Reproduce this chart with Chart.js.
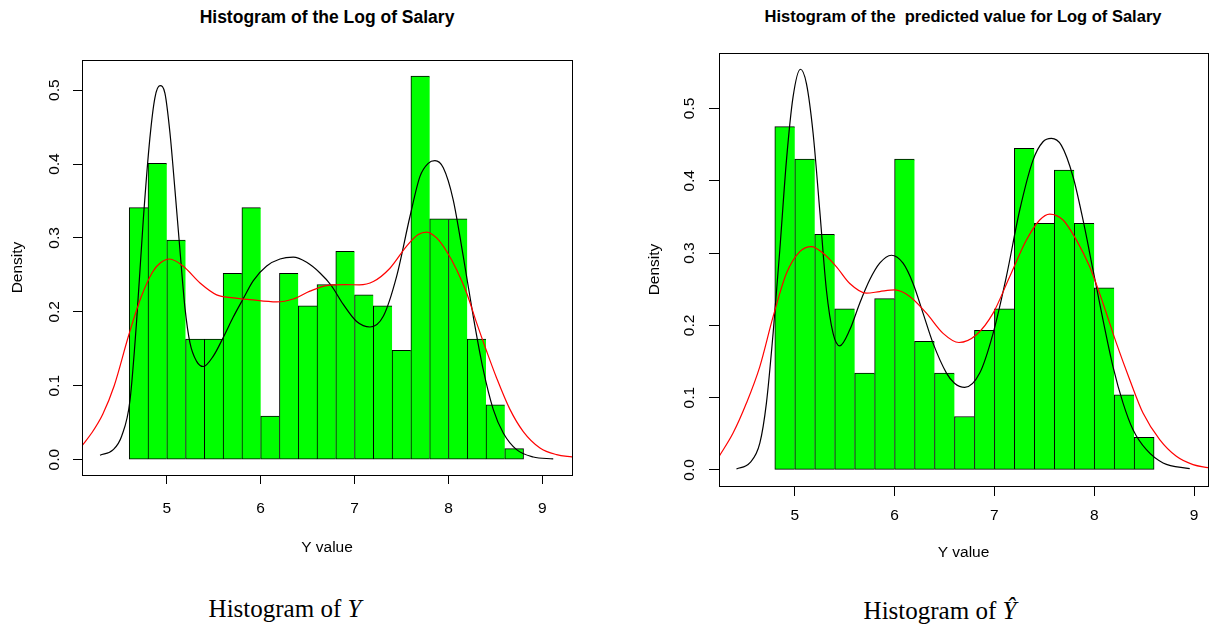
<!DOCTYPE html>
<html><head><meta charset="utf-8">
<script src="https://cdn.jsdelivr.net/npm/chart.js@4.4.1/dist/chart.umd.min.js"></script>
<style>
body{margin:0;background:#fff;width:1212px;height:626px;overflow:hidden;position:relative;font-family:'Liberation Sans',Arial,sans-serif}
canvas{position:absolute;top:0}
.title{position:absolute;font-weight:bold;text-align:center;line-height:1;white-space:pre;color:#000}
.cap{position:absolute;font-family:'Liberation Serif','Times New Roman',serif;font-size:25px;line-height:1;text-align:center;white-space:nowrap;color:#000}
</style></head><body>
<div class="title" style="left:127px;width:400px;top:9px;font-size:17.5px">Histogram of the Log of Salary</div>
<div class="title" style="left:713px;width:500px;top:7.5px;font-size:16.5px">Histogram of the  predicted value for Log of Salary</div>
<canvas id="c1" width="600" height="580" style="left:0"></canvas>
<canvas id="c2" width="606" height="580" style="left:606px"></canvas>
<div class="cap" style="left:185px;width:200px;top:596px">Histogram of <i>Y</i></div>
<div class="cap" style="left:840px;width:200px;top:598px">Histogram of <i>Ŷ</i></div>
<script>
// ---- data ----
const breaksY = [4.6,4.8,5.0,5.2,5.4,5.6,5.8,6.0,6.2,6.4,6.6,6.8,7.0,7.2,7.4,7.6,7.8,8.0,8.2,8.4,8.6,8.8];
const densityY = [0.341,0.401,0.297,0.163,0.163,0.252,0.341,0.059,0.252,0.208,0.237,0.282,0.223,0.208,0.148,0.519,0.326,0.326,0.163,0.074,0.015];
const breaksYhat = [4.8,5.0,5.2,5.4,5.6,5.8,6.0,6.2,6.4,6.6,6.8,7.0,7.2,7.4,7.6,7.8,8.0,8.2,8.4,8.6];
const densityYhat = [0.475,0.430,0.326,0.223,0.134,0.237,0.430,0.178,0.134,0.074,0.193,0.223,0.445,0.341,0.415,0.341,0.252,0.104,0.045];

const blackCurveY = [[4.289,0.006],[4.43,0.0135],[4.52,0.032],[4.608,0.08],[4.68,0.19],[4.75,0.325],[4.82,0.435],[4.874,0.49],[4.928,0.506],[4.98,0.496],[5.034,0.442],[5.087,0.365],[5.14,0.284],[5.194,0.205],[5.247,0.158],[5.318,0.133],[5.389,0.126],[5.495,0.140],[5.60,0.165],[5.708,0.193],[5.815,0.218],[5.92,0.242],[6.064,0.262],[6.206,0.2715],[6.347,0.274],[6.49,0.267],[6.632,0.2526],[6.75,0.236],[6.88,0.21],[7.022,0.187],[7.164,0.1795],[7.306,0.194],[7.448,0.248],[7.59,0.329],[7.696,0.383],[7.785,0.401],[7.856,0.4046],[7.945,0.395],[8.05,0.352],[8.158,0.275],[8.264,0.194],[8.37,0.122],[8.477,0.068],[8.584,0.036],[8.726,0.0135],[8.903,0.0036],[9.116,0.001]];
const redCurveY = [[4.098,0.019],[4.2,0.036],[4.318,0.0615],[4.44,0.10],[4.596,0.169],[4.727,0.22],[4.849,0.254],[4.93,0.266],[5.03,0.2715],[5.176,0.2616],[5.354,0.239],[5.531,0.223],[5.708,0.219],[5.886,0.2165],[6.17,0.2134],[6.347,0.2174],[6.525,0.228],[6.703,0.2355],[6.9,0.2368],[7.05,0.2365],[7.2,0.241],[7.377,0.259],[7.555,0.289],[7.678,0.3045],[7.768,0.308],[7.874,0.300],[7.98,0.282],[8.087,0.257],[8.194,0.2255],[8.30,0.185],[8.407,0.1466],[8.513,0.1105],[8.655,0.068],[8.797,0.038],[8.975,0.0158],[9.152,0.0068],[9.32,0.0036]];

const blackCurveYhat = [[4.416,0.0014],[4.549,0.0097],[4.65,0.037],[4.716,0.0925],[4.783,0.189],[4.85,0.304],[4.917,0.4286],[4.983,0.516],[5.057,0.5543],[5.117,0.5345],[5.184,0.4655],[5.25,0.3596],[5.317,0.249],[5.384,0.189],[5.451,0.1717],[5.551,0.1938],[5.651,0.2307],[5.751,0.263],[5.851,0.286],[5.968,0.297],[6.085,0.286],[6.185,0.258],[6.285,0.217],[6.385,0.1754],[6.52,0.134],[6.60,0.12],[6.703,0.1142],[6.853,0.134],[6.987,0.189],[7.12,0.2675],[7.254,0.3596],[7.387,0.4286],[7.487,0.454],[7.571,0.4586],[7.671,0.449],[7.788,0.4056],[7.888,0.3458],[7.988,0.2767],[8.088,0.2076],[8.188,0.143],[8.289,0.0925],[8.389,0.0557],[8.523,0.028],[8.69,0.0097],[8.957,0.0018]];
const redCurveYhat = [[4.239,0.018],[4.382,0.051],[4.516,0.0925],[4.65,0.143],[4.783,0.212],[4.917,0.272],[5.05,0.302],[5.167,0.309],[5.284,0.2997],[5.418,0.281],[5.551,0.258],[5.718,0.2445],[5.851,0.2468],[6.002,0.249],[6.152,0.24],[6.319,0.2169],[6.486,0.189],[6.645,0.1763],[6.82,0.187],[6.987,0.2169],[7.154,0.2675],[7.321,0.318],[7.454,0.3458],[7.554,0.354],[7.688,0.3458],[7.822,0.318],[7.955,0.281],[8.088,0.2307],[8.222,0.1754],[8.356,0.1248],[8.489,0.0787],[8.656,0.042],[8.823,0.0189],[8.99,0.0074],[9.14,0.0032]];

const xTickValues = [5,6,7,8,9];
const xTickLabels = ['5','6','7','8','9'];
const yTickValues = [0,0.1,0.2,0.3,0.4,0.5];
const yTickLabels = ['0.0','0.1','0.2','0.3','0.4','0.5'];

// ---- drawing ----
Chart.defaults.font.family = "'Liberation Sans', Arial, sans-serif";
Chart.defaults.color = '#000';

const boxPlugin = {
  id: 'rbox',
  afterDatasetsDraw(chart) {
    const {ctx, chartArea: a} = chart;
    ctx.save();
    ctx.strokeStyle = '#000';
    ctx.lineWidth = 1;
    ctx.strokeRect(Math.round(a.left) + 0.5, Math.round(a.top) + 0.5, Math.round(a.right - a.left), Math.round(a.bottom - a.top));
    ctx.restore();
  }
};

function makeChart(id, cfg) {
  const mids = cfg.breaks.slice(0, -1).map((b, i) => (b + cfg.breaks[i + 1]) / 2);
  const n = mids.length;
  const fs = 15.5;
  new Chart(document.getElementById(id), {
    type: 'bar',
    data: {
      datasets: [
        { type: 'line', data: cfg.red.map(p => ({x: p[0], y: p[1]})), borderColor: '#ff0000', borderWidth: 1.2,
          pointRadius: 0, cubicInterpolationMode: 'monotone', fill: false, order: 0 },
        { type: 'line', data: cfg.black.map(p => ({x: p[0], y: p[1]})), borderColor: '#000000', borderWidth: 1.2,
          pointRadius: 0, cubicInterpolationMode: 'monotone', fill: false, order: 1 },
        { type: 'bar', data: mids.map((m, i) => ({x: m, y: cfg.dens[i]})), backgroundColor: '#00ff00', borderColor: '#000000',
          borderWidth: (c) => ({left: 1, top: 1, bottom: 1, right: c.dataIndex === n - 1 ? 1 : 0}),
          borderSkipped: false, barPercentage: 1, categoryPercentage: 1, order: 2 }
      ]
    },
    options: {
      responsive: false, animation: false, devicePixelRatio: 1,
      layout: {padding: {left: 0, top: cfg.box.top, right: cfg.W - cfg.box.right, bottom: 0}},
      plugins: {legend: {display: false}, tooltip: {enabled: false}, title: {display: false}},
      scales: {
        x: {
          type: 'linear', min: cfg.xmin, max: cfg.xmax, offset: false,
          afterBuildTicks: s => { s.ticks = xTickValues.map(v => ({value: v})); },
          afterFit: s => { s.height = cfg.H - cfg.box.bottom; },
          grid: {display: true, drawOnChartArea: false, drawTicks: true, tickLength: cfg.tick, color: '#000', offset: false},
          border: {display: false},
          ticks: {autoSkip: false, maxRotation: 0, minRotation: 0, padding: cfg.xpad, color: '#000', font: {size: fs},
                  callback: (v, i) => xTickLabels[i]},
          title: {display: true, text: 'Y value', color: '#000', font: {size: fs}, padding: {top: 0, bottom: cfg.xtitlePad}}
        },
        y: {
          type: 'linear', min: cfg.ymin, max: cfg.ymax,
          afterBuildTicks: s => { s.ticks = yTickValues.map(v => ({value: v})); },
          afterFit: s => { s.width = cfg.box.left; },
          grid: {display: true, drawOnChartArea: false, drawTicks: true, tickLength: cfg.tick, color: '#000'},
          border: {display: false},
          ticks: {minRotation: 90, maxRotation: 90, crossAlign: 'center', padding: cfg.ypad, color: '#000', font: {size: fs},
                  callback: (v, i) => yTickLabels[i]},
          title: {display: true, text: 'Density', color: '#000', font: {size: fs}, padding: {top: cfg.ytitlePad, bottom: 0}}
        }
      }
    },
    plugins: [boxPlugin]
  });
}

makeChart('c1', {
  breaks: breaksY, dens: densityY, black: blackCurveY, red: redCurveY,
  W: 600, H: 580, box: {left: 82, right: 572, top: 60, bottom: 475},
  xmin: 4.097, xmax: 9.316, ymin: -0.0208, ymax: 0.5408,
  tick: 9, xpad: 15.4, ypad: 7.2, ytitlePad: 8.2, xtitlePad: 22.7
});
makeChart('c2', {
  breaks: breaksYhat, dens: densityYhat, black: blackCurveYhat, red: redCurveYhat,
  W: 606, H: 580, box: {left: 113, right: 602, top: 53, bottom: 486},
  xmin: 4.241, xmax: 9.14, ymin: -0.0222, ymax: 0.5768,
  tick: 10, xpad: 10.3, ypad: 8.2, ytitlePad: 39.7, xtitlePad: 18.1
});
</script>
</body></html>
